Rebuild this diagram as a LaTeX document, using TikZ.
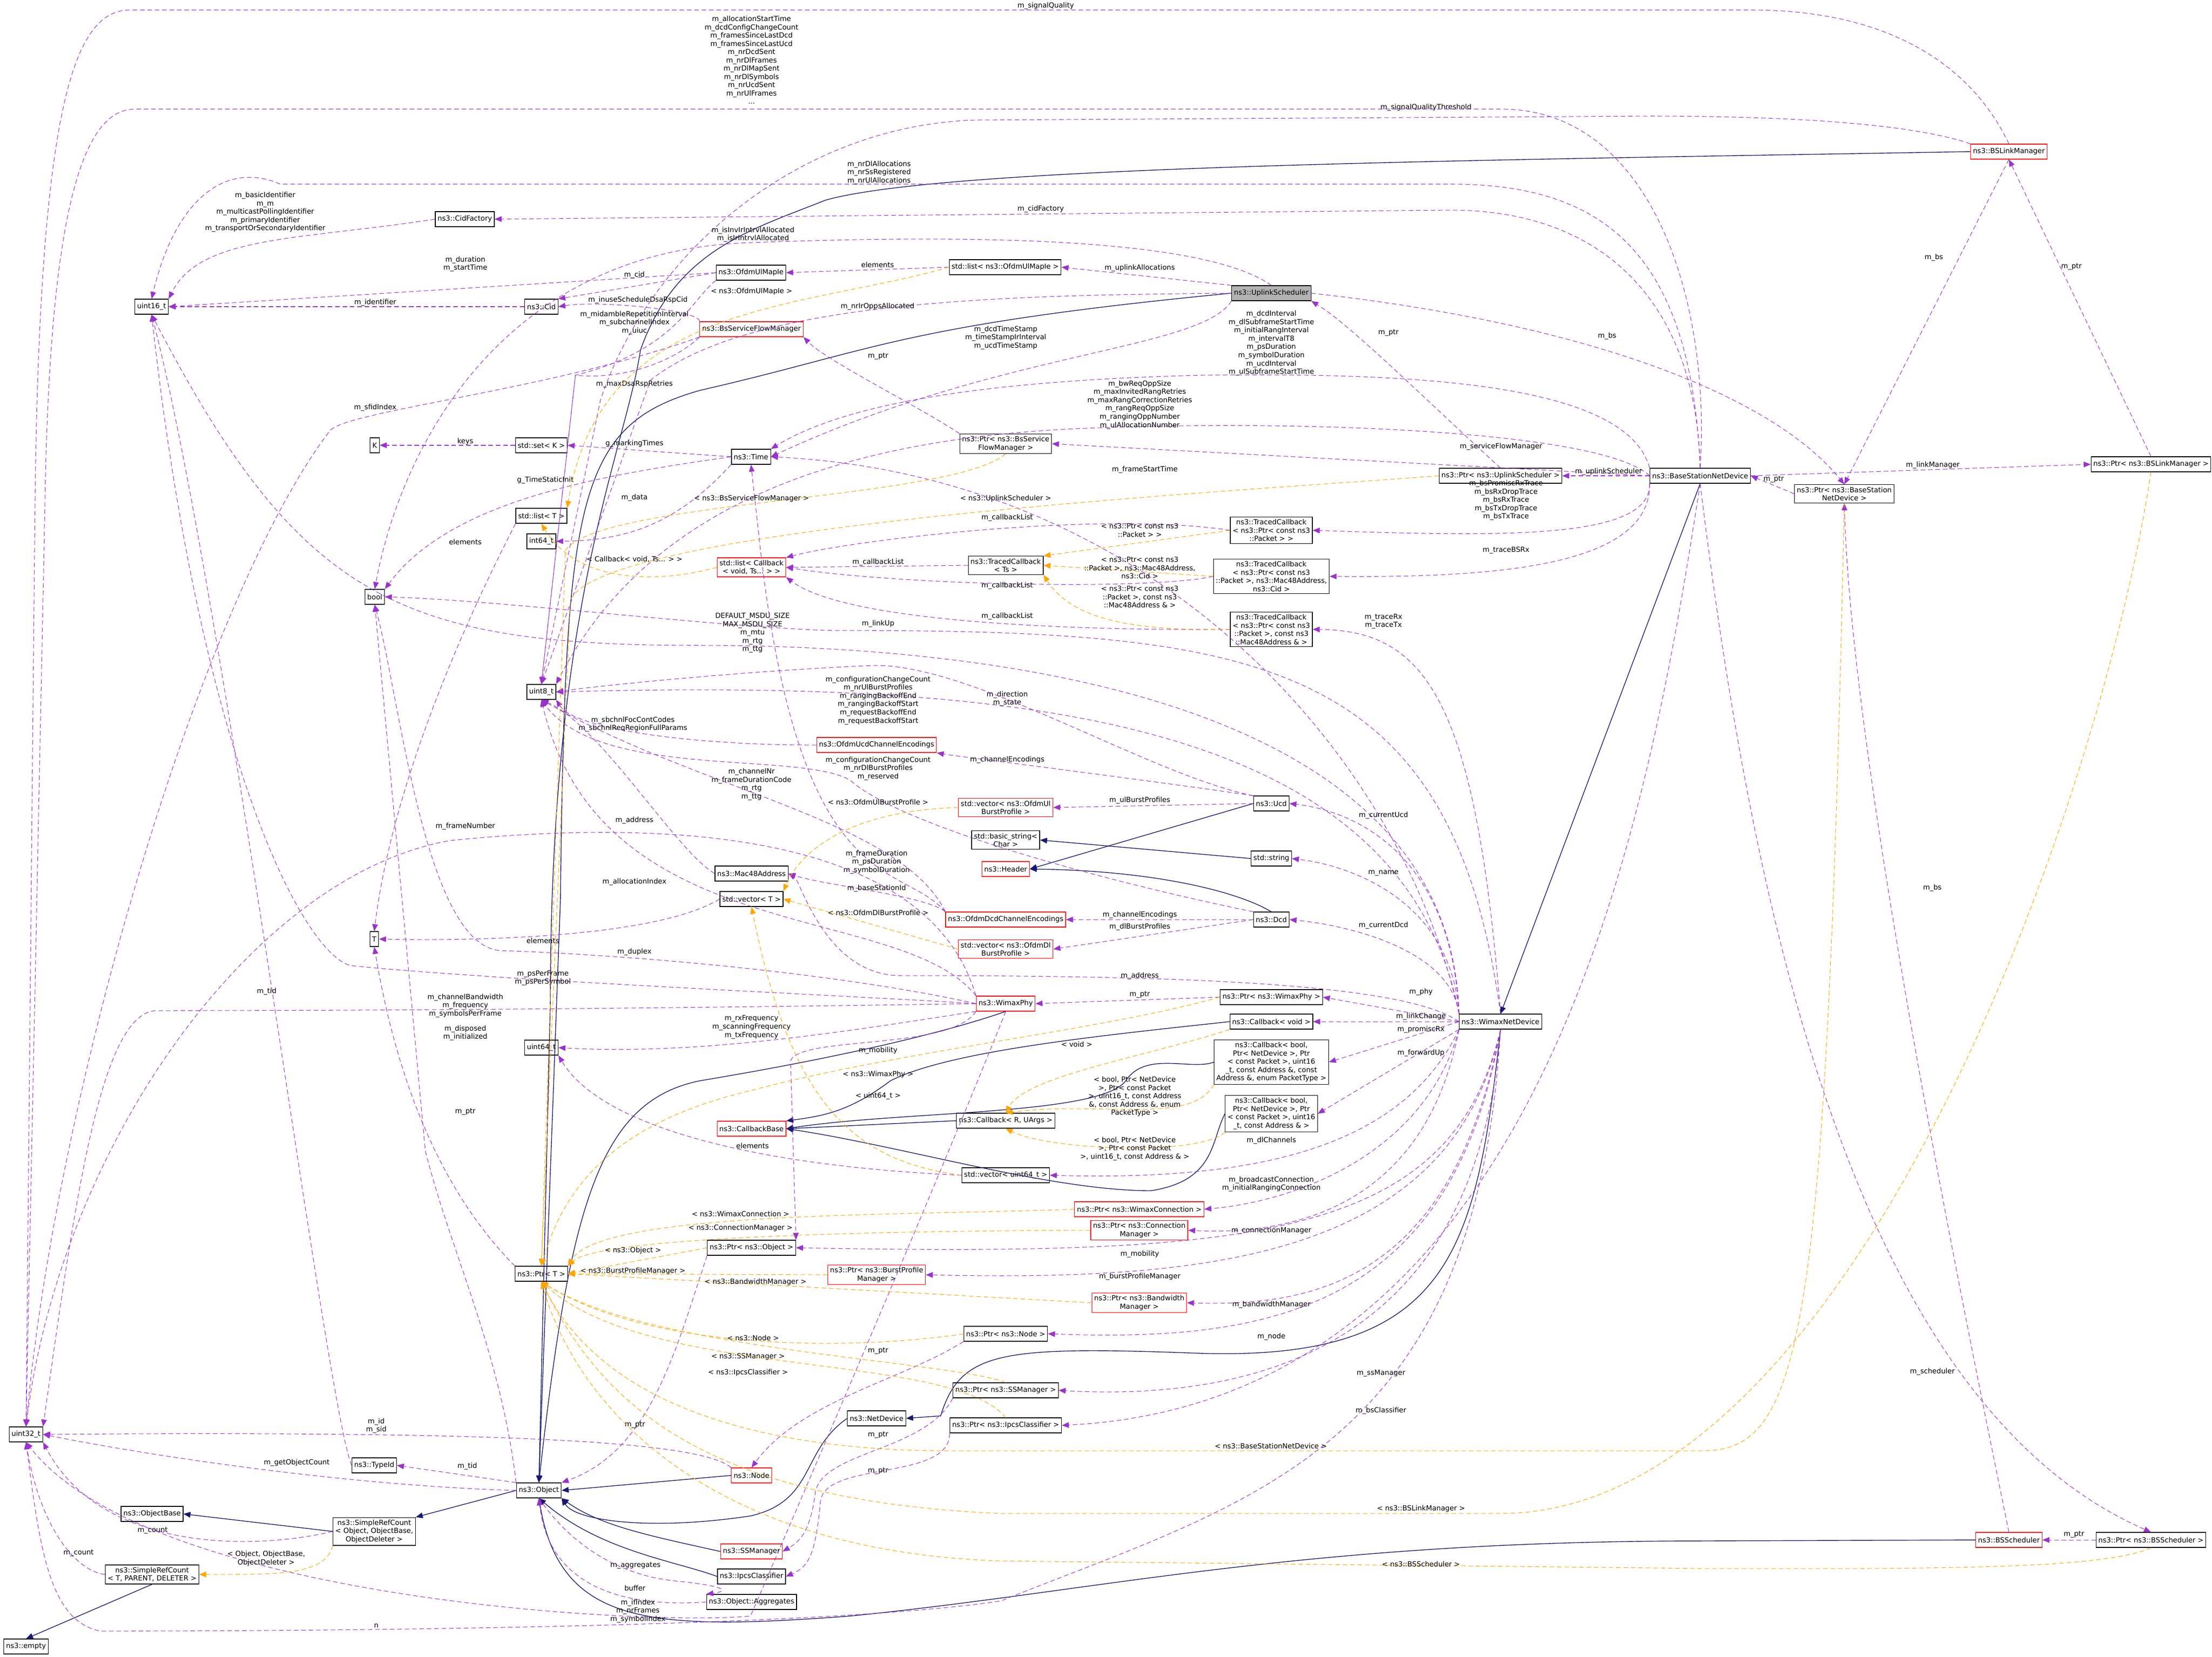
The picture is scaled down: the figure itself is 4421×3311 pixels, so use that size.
\documentclass[tikz,border=0pt]{standalone}
\usepackage{fontspec}
\setmainfont{DejaVu Sans}
\usetikzlibrary{arrows.meta}
\definecolor{mp}{RGB}{154,50,205}
\definecolor{mo}{RGB}{255,165,0}
\definecolor{mn}{RGB}{25,25,112}
\tikzset{
 box/.style={draw=black,line width=0.35pt,inner sep=1.3pt,minimum height=0.3cm,align=center,font=\fontsize{4}{4.7}\selectfont,fill=white},
 rbox/.style={box,draw=red},
 lbl/.style={inner sep=0pt,align=center,font=\fontsize{4}{4.7}\selectfont},
 mem/.style={draw=mp,line width=0.3pt,dash pattern=on 2.6pt off 1.6pt,-{Triangle[length=4pt,width=3.2pt]}},
 tpl/.style={draw=mo,line width=0.3pt,dash pattern=on 2.6pt off 1.6pt,-{Triangle[length=4pt,width=3.2pt]}},
 inh/.style={draw=mn,line width=0.4pt,-{Triangle[length=4pt,width=3.2pt]}},
}
\begin{document}
\begin{tikzpicture}[x=0.01cm,y=-0.01cm]
\useasboundingbox[fill=white] (0,0) rectangle (4421,3311);
% nodes
\node[box] (uint16) at (303,613) {uint16\_t};
\node[box] (cidf) at (929,438) {ns3::CidFactory};
\node[box] (ulie) at (1501,545) {ns3::OfdmUlMapIe};
\node[box] (cid) at (1082,613) {ns3::Cid};
\node[rbox] (bssfm) at (1502,658) {ns3::BsServiceFlowManager};
\node[box] (K) at (749,890) {K};
\node[box] (setK) at (1082,890) {std::set< K >};
\node[box] (time) at (1501,913) {ns3::Time};
\node[box] (listT) at (1082,1031) {std::list< T >};
\node[box] (i64) at (1082,1082) {int64\_t};
\node[rbox] (listcb) at (1502,1134) {std::list< Callback\\< void, Ts... > >};
\node[box] (bool) at (749,1193) {bool};
\node[box] (u8) at (1082,1383) {uint8\_t};
\node[box] (T) at (748,1877) {T};
\node[box] (u64) at (1082,2094) {uint64\_t};
\node[box] (listul) at (2009,534) {std::list< ns3::OfdmUlMapIe >};
\node[box,fill=black!30] (ups) at (2541,586) {ns3::UplinkScheduler};
\node[box] (pbssfm) at (2010,887) {ns3::Ptr< ns3::BsService\\FlowManager >};
\node[box] (tcp) at (2541,1060) {ns3::TracedCallback\\< ns3::Ptr< const ns3\\::Packet > >};
\node[box] (tcts) at (2010,1130) {ns3::TracedCallback\\< Ts >};
\node[box] (tcmc) at (2541,1152) {ns3::TracedCallback\\< ns3::Ptr< const ns3\\::Packet >, ns3::Mac48Address,\\ ns3::Cid >};
\node[box] (tcma) at (2541,1258) {ns3::TracedCallback\\< ns3::Ptr< const ns3\\::Packet >, const ns3\\::Mac48Address \& >};
\node[rbox] (ucdce) at (1752,1489) {ns3::OfdmUcdChannelEncodings};
\node[rbox] (vulbp) at (2010,1614) {std::vector< ns3::OfdmUl\\BurstProfile >};
\node[box] (ucd) at (2541,1606) {ns3::Ucd};
\node[box] (bstr) at (2010,1679) {std::basic\_string<\\ Char >};
\node[box] (str) at (2541,1716) {std::string};
\node[rbox] (header) at (2010,1737) {ns3::Header};
\node[box] (mac) at (1502,1746) {ns3::Mac48Address};
\node[box] (vecT) at (1502,1797) {std::vector< T >};
\node[rbox] (dcdce) at (2010,1838) {ns3::OfdmDcdChannelEncodings};
\node[box] (dcd) at (2541,1838) {ns3::Dcd};
\node[rbox] (vdlbp) at (2010,1897) {std::vector< ns3::OfdmDl\\BurstProfile >};
\node[rbox] (phy) at (2010,2006) {ns3::WimaxPhy};
\node[box] (pphy) at (2541,1993) {ns3::Ptr< ns3::WimaxPhy >};
\node[box] (cbv) at (2541,2042) {ns3::Callback< void >};
\node[box] (cbpt) at (2541,2123) {ns3::Callback< bool,\\ Ptr< NetDevice >, Ptr\\< const Packet >, uint16\\\_t, const Address \&, const\\ Address \&, enum PacketType >};
\node[box] (cbad) at (2541,2226) {ns3::Callback< bool,\\ Ptr< NetDevice >, Ptr\\< const Packet >, uint16\\\_t, const Address \& >};
\node[rbox] (cbb) at (1502,2256) {ns3::CallbackBase};
\node[box] (cbr) at (2010,2240) {ns3::Callback< R, UArgs >};
\node[box] (vu64) at (2010,2349) {std::vector< uint64\_t >};
\node[rbox] (pwc) at (2277,2417) {ns3::Ptr< ns3::WimaxConnection >};
\node[rbox] (pcm) at (2277,2459) {ns3::Ptr< ns3::Connection\\Manager >};
\node[box] (pobj) at (1502,2494) {ns3::Ptr< ns3::Object >};
\node[rbox] (pbpm) at (1752,2548) {ns3::Ptr< ns3::BurstProfile\\Manager >};
\node[rbox] (pbwm) at (2277,2604) {ns3::Ptr< ns3::Bandwidth\\Manager >};
\node[box] (pnode) at (2010,2666) {ns3::Ptr< ns3::Node >};
\node[box] (pssm) at (2010,2779) {ns3::Ptr< ns3::SSManager >};
\node[box] (netdev) at (1752,2835) {ns3::NetDevice};
\node[box] (pipcs) at (2010,2849) {ns3::Ptr< ns3::IpcsClassifier >};
\node[box] (ptrT) at (1082,2546) {ns3::Ptr< T >};
\node[box] (u32) at (52,2867) {uint32\_t};
\node[box] (typeid) at (748,2929) {ns3::TypeId};
\node[box] (obj) at (1077,2979) {ns3::Object};
\node[rbox] (node) at (1502,2949) {ns3::Node};
\node[box] (objbase) at (304,3026) {ns3::ObjectBase};
\node[box] (src) at (748,3061) {ns3::SimpleRefCount\\< Object, ObjectBase,\\ ObjectDeleter >};
\node[rbox] (ssm) at (1502,3101) {ns3::SSManager};
\node[box] (srcT) at (304,3147) {ns3::SimpleRefCount\\< T, PARENT, DELETER >};
\node[box] (ipcs) at (1502,3151) {ns3::IpcsClassifier};
\node[box] (aggr) at (1502,3202) {ns3::Object::Aggregates};
\node[box] (empty) at (52,3291) {ns3::empty};
\node[box] (bsnd) at (3398,951) {ns3::BaseStationNetDevice};
\node[box] (pups) at (2999,951) {ns3::Ptr< ns3::UplinkScheduler >};
\node[box] (pbsnd) at (3686,987) {ns3::Ptr< ns3::BaseStation\\NetDevice >};
\node[box] (pbslm) at (4299,928) {ns3::Ptr< ns3::BSLinkManager >};
\node[rbox] (bslm) at (4015,303) {ns3::BSLinkManager};
\node[box] (wnd) at (2999,2042) {ns3::WimaxNetDevice};
\node[rbox] (bss) at (4015,3078) {ns3::BSScheduler};
\node[box] (pbss) at (4299,3078) {ns3::Ptr< ns3::BSScheduler >};

% inheritance
\draw[inh] (ups.west) .. controls (1800,650) and (1750,700) .. (1400,780) .. controls (1150,850) and (1130,1000) .. (1120,1800) -- (obj.north);
\draw[inh] (bslm.west) .. controls (3000,320) and (1900,330) .. (1650,400) .. controls (1500,460) and (1350,500) .. (1280,700) .. controls (1250,900) and (1100,1200) .. (1100,2000) -- (obj.north);
\draw[inh] (bsnd.south) -- (wnd.north);
\draw[inh] (wnd.south) .. controls (2950,2500) and (2900,2720) .. (2400,2705) .. controls (2000,2690) and (1920,2700) .. (1880,2830) -- (netdev.east);
\draw[inh] (netdev.west) .. controls (1600,2900) and (1630,3000) .. (1500,3030) .. controls (1300,3060) and (1150,3040) .. (obj.south east);
\draw[inh] (phy.south) .. controls (1900,2060) and (1700,2110) .. (1400,2160) .. controls (1200,2200) and (1140,2400) .. (obj.north);
\draw[inh] (ucd.west) -- (header.east);
\draw[inh] (dcd.north) .. controls (2470,1780) and (2300,1740) .. (header.east);
\draw[inh] (str.west) -- (bstr.east);
\draw[inh] (cbv.west) .. controls (2200,2070) and (1900,2100) .. (1780,2160) .. controls (1700,2220) and (1650,2230) .. (cbb.north east);
\draw[inh] (cbr.west) -- (cbb.east);
\draw[inh] (cbpt.west) .. controls (2380,2140) and (2290,2100) .. (2250,2160) .. controls (2200,2230) and (1800,2220) .. (cbb.east);
\draw[inh] (cbad.west) .. controls (2420,2280) and (2430,2360) .. (2300,2380) .. controls (2100,2380) and (1800,2290) .. (cbb.east);
\draw[inh] (node.west) -- (obj.east);
\draw[inh] (ssm.west) .. controls (1300,3070) and (1200,3050) .. (obj.south east);
\draw[inh] (ipcs.west) .. controls (1350,3120) and (1200,3100) .. (obj.south);
\draw[inh] (bss.west) -- (3400,3080) .. controls (2600,3080) and (2200,3180) .. (1700,3230) .. controls (1300,3260) and (1120,3250) .. (obj.south);
\draw[inh] (obj.west) -- (src.north east);
\draw[inh] (src.west) -- (objbase.east);
\draw[inh] (srcT.south) -- (empty.north);

% member edges
\draw[mem] (bslm.north) .. controls (3950,150) and (3800,20) .. (3500,20) -- (260,20) .. controls (150,20) and (80,200) .. (70,1000) -- (u32.north);
\node[lbl] (l1) at (2090,12) {m\_signalQuality};
\draw[mem] (bslm.north west) .. controls (3800,240) and (3500,232) .. (3300,232) -- (1950,240) .. controls (1600,250) and (1300,500) .. (1200,800) -- (u8.north);
\node[lbl] (l2) at (2850,215) {m\_signalQualityThreshold};
\draw[mem] (bsnd.north) .. controls (3420,600) and (3300,218) .. (3000,218) -- (270,218) .. controls (170,218) and (100,400) .. (90,1000) -- (u32.north);
\node[lbl] (l3) at (1502,120) {m\_allocationStartTime\\m\_dcdConfigChangeCount\\m\_framesSinceLastDcd\\m\_framesSinceLastUcd\\m\_nrDcdSent\\m\_nrDlFrames\\m\_nrDlMapSent\\m\_nrDlSymbols\\m\_nrUcdSent\\m\_nrUlFrames\\...};
\draw[mem] (bsnd.north) .. controls (3380,500) and (3200,368) .. (2900,368) -- (560,368) .. controls (450,320) and (350,400) .. (uint16.north);
\node[lbl] (l4) at (1757,345) {m\_nrDlAllocations\\m\_nrSsRegistered\\m\_nrUlAllocations};
\draw[mem] (bsnd.north) .. controls (3390,600) and (3200,420) .. (2900,420) -- (cidf.east);
\node[lbl] (l5) at (2080,418) {m\_cidFactory};
\draw[mem] (cidf.west) .. controls (600,480) and (400,470) .. (uint16.north east);
\node[lbl] (l6) at (530,424) {m\_basicIdentifier\\m\_m\\m\_multicastPollingIdentifier\\m\_primaryIdentifier\\m\_transportOrSecondaryIdentifier};
\draw[mem] (ulie.west) -- (uint16.east);
\node[lbl] (l7) at (930,528) {m\_duration\\m\_startTime};
\draw[mem] (cid.west) -- (uint16.east);
\node[lbl] (l8) at (750,605) {m\_identifier};
\draw[mem] (ulie.west) -- (cid.north east);
\node[lbl] (l9) at (1268,550) {m\_cid};
\draw[mem] (bssfm.north west) .. controls (1400,620) and (1200,600) .. (cid.east);
\node[lbl] (l10) at (1275,600) {m\_inuseScheduleDsaRspCid};
\draw[mem] (ulie.south west) .. controls (1380,600) and (1350,700) .. (1150,750) -- (u8.north);
\node[lbl] (l11) at (1268,645) {m\_midambleRepetitionInterval\\m\_subchannelIndex\\m\_uiuc};
\draw[mem] (ups.north) .. controls (2400,470) and (1900,470) .. (1500,485) .. controls (1000,500) and (800,900) .. (bool.north);
\node[lbl] (l12) at (1505,469) {m\_isInvIrIntrvlAllocated\\m\_isIrIntrvlAllocated};
\draw[mem] (listul.west) -- (ulie.east);
\node[lbl] (l13) at (1754,529) {elements};
\draw[mem] (ups.north west) -- (listul.east);
\node[lbl] (l14) at (2278,536) {m\_uplinkAllocations};
\draw[mem] (ups.west) .. controls (2000,590) and (1500,600) .. (1300,760) -- (u8.north);
\node[lbl] (l15) at (1754,613) {m\_nrIrOppsAllocated};
\draw[mem] (ups.south west) .. controls (2400,700) and (2000,700) .. (time.east);
\node[lbl] (l16) at (2010,675) {m\_dcdTimeStamp\\m\_timeStampIrInterval\\m\_ucdTimeStamp};
\draw[mem] (pups.north) .. controls (2850,800) and (2700,650) .. (ups.south east);
\node[lbl] (l17) at (2775,665) {m\_ptr};
\draw[mem] (bsnd.north west) .. controls (3250,760) and (2800,745) .. (2400,750) .. controls (2000,760) and (1700,800) .. (time.north east);
\node[lbl] (l18) at (2541,686) {m\_dcdInterval\\m\_dlSubframeStartTime\\m\_initialRangInterval\\m\_intervalT8\\m\_psDuration\\m\_symbolDuration\\m\_ucdInterval\\m\_ulSubframeStartTime};
\draw[mem] (bsnd.west) .. controls (3200,860) and (2600,840) .. (2200,855) .. controls (1700,870) and (1300,1000) .. (u8.north east);
\node[lbl] (l19) at (2278,809) {m\_bwReqOppSize\\m\_maxInvitedRangRetries\\m\_maxRangCorrectionRetries\\m\_rangReqOppSize\\m\_rangingOppNumber\\m\_ulAllocationNumber};
\draw[mem] (pbssfm.north west) .. controls (1850,820) and (1650,720) .. (bssfm.south east);
\node[lbl] (l20) at (1755,712) {m\_ptr};
\draw[mem] (bsnd.west) -- (pbssfm.east);
\node[lbl] (l21) at (3000,893) {m\_serviceFlowManager};
\draw[mem] (bssfm.south west) .. controls (1350,720) and (1250,760) .. (1150,750) -- (u8.north);
\node[lbl] (l22) at (1268,768) {m\_maxDsaRspRetries};
\draw[mem] (bssfm.south west) .. controls (1100,780) and (700,820) .. (660,860) .. controls (400,1200) and (110,2200) .. (u32.north);
\node[lbl] (l23) at (750,815) {m\_sfidIndex};
\draw[mem] (setK.west) -- (K.east);
\node[lbl] (l24) at (930,883) {keys};
\draw[mem] (time.west) -- (setK.east);
\node[lbl] (l25) at (1268,887) {g\_markingTimes};
\draw[mem] (time.west) .. controls (1200,950) and (900,1000) .. (bool.north east);
\node[lbl] (l26) at (1090,960) {g\_TimeStaticInit};
\draw[mem] (time.south west) .. controls (1350,1050) and (1250,1080) .. (i64.east);
\node[lbl] (l27) at (1268,995) {m\_data};
\draw[mem] (listT.south west) .. controls (900,1300) and (780,1600) .. (T.north);
\node[lbl] (l28) at (930,1083) {elements};
\draw[mem] (pbsnd.west) -- (bsnd.east);
\node[lbl] (l29) at (3545,958) {m\_ptr};
\draw[mem] (bsnd.east) -- (pbslm.west);
\node[lbl] (l30) at (3863,930) {m\_linkManager};
\draw[mem] (pbslm.north) -- (bslm.south);
\node[lbl] (l31) at (4140,533) {m\_ptr};
\draw[mem] (bslm.south) -- (pbsnd.north);
\node[lbl] (l32) at (3865,515) {m\_bs};
\draw[mem] (ups.east) .. controls (3200,650) and (3550,800) .. (pbsnd.north);
\node[lbl] (l33) at (3212,672) {m\_bs};
\draw[mem] (bsnd.west) -- (pups.east);
\node[lbl] (l34) at (3215,943) {m\_uplinkScheduler};
\draw[mem] (bsnd.south west) .. controls (3300,1080) and (3000,1072) .. (tcp.east);
\node[lbl] (l35) at (3010,1000) {m\_bsPromiscRxTrace\\m\_bsRxDropTrace\\m\_bsRxTrace\\m\_bsTxDropTrace\\m\_bsTxTrace};
\draw[mem] (bsnd.south west) .. controls (3300,1130) and (3000,1155) .. (tcmc.east);
\node[lbl] (l36) at (3010,1100) {m\_traceBSRx};
\draw[mem] (tcp.west) .. controls (2200,1020) and (1700,1080) .. (listcb.north east);
\node[lbl] (l37) at (2013,1035) {m\_callbackList};
\draw[mem] (tcts.west) -- (listcb.east);
\node[lbl] (l38) at (1755,1124) {m\_callbackList};
\draw[mem] (tcmc.west) .. controls (2300,1180) and (1800,1170) .. (listcb.east);
\node[lbl] (l39) at (2013,1171) {m\_callbackList};
\draw[mem] (tcma.west) .. controls (2200,1260) and (1700,1250) .. (listcb.south east);
\node[lbl] (l40) at (2013,1232) {m\_callbackList};
\draw[mem] (wnd.north) .. controls (2950,1400) and (2850,1260) .. (tcma.east);
\node[lbl] (l41) at (2765,1242) {m\_traceRx\\m\_traceTx};
\draw[mem] (wnd.north) .. controls (2900,1300) and (2500,1260) .. (1650,1260) .. controls (1400,1250) and (1000,1200) .. (bool.east);
\node[lbl] (l42) at (1755,1247) {m\_linkUp};
\draw[mem] (wnd.north west) .. controls (2900,1400) and (2000,1290) .. (1400,1290) .. controls (800,1290) and (600,1200) .. (uint16.south);
\node[lbl] (l43) at (1504,1265) {DEFAULT\_MSDU\_SIZE\\MAX\_MSDU\_SIZE\\m\_mtu\\m\_rtg\\m\_ttg};
\draw[mem] (wnd.north west) .. controls (2800,1420) and (2000,1360) .. (u8.east);
\node[lbl] (l44) at (2013,1397) {m\_direction\\m\_state};
\draw[mem] (ucd.north west) .. controls (2300,1550) and (1950,1330) .. (1750,1330) .. controls (1500,1340) and (1200,1370) .. (u8.east);
\node[lbl] (l45) at (1755,1400) {m\_configurationChangeCount\\m\_nrUlBurstProfiles\\m\_rangingBackoffEnd\\m\_rangingBackoffStart\\m\_requestBackoffEnd\\m\_requestBackoffStart};
\draw[mem] (ucdce.west) .. controls (1400,1490) and (1150,1460) .. (u8.south east);
\node[lbl] (l46) at (1265,1448) {m\_sbchnlFocContCodes\\m\_sbchnlReqRegionFullParams};
\draw[mem] (ucd.north west) .. controls (2300,1560) and (1900,1510) .. (ucdce.south east);
\node[lbl] (l47) at (2013,1519) {m\_channelEncodings};
\draw[mem] (dcd.north west) .. controls (2200,1760) and (1800,1650) .. (1700,1560) .. controls (1600,1500) and (1200,1560) .. (u8.south);
\node[lbl] (l48) at (1755,1536) {m\_configurationChangeCount\\m\_nrDlBurstProfiles\\m\_reserved};
\draw[mem] (dcdce.north west) .. controls (1800,1640) and (1400,1580) .. (u8.south);
\node[lbl] (l49) at (1502,1568) {m\_channelNr\\m\_frameDurationCode\\m\_rtg\\m\_ttg};
\draw[mem] (ucd.west) -- (vulbp.east);
\node[lbl] (l50) at (2278,1600) {m\_ulBurstProfiles};
\draw[mem] (dcd.west) -- (dcdce.east);
\node[lbl] (l51) at (2278,1829) {m\_channelEncodings};
\draw[mem] (dcd.west) -- (vdlbp.east);
\node[lbl] (l52) at (2278,1853) {m\_dlBurstProfiles};
\draw[mem] (dcdce.north west) .. controls (1800,1720) and (1600,1800) .. (1520,1100) -- (time.south);
\node[lbl] (l53) at (1752,1723) {m\_frameDuration\\m\_psDuration\\m\_symbolDuration};
\draw[mem] (dcdce.north west) .. controls (1850,1790) and (1650,1770) .. (mac.east);
\node[lbl] (l54) at (1752,1776) {m\_baseStationId};
\draw[mem] (phy.north west) .. controls (1850,1650) and (1300,1640) .. (900,1680) .. controls (500,1750) and (120,2300) .. (u32.north);
\node[lbl] (l55) at (930,1652) {m\_frameNumber};
\draw[mem] (wnd.west) .. controls (2800,1960) and (2300,1950) .. (1800,1950) .. controls (1650,1950) and (1600,1760) .. (mac.east);
\node[lbl] (l56) at (2278,1951) {m\_address};
\draw[mem] (mac.west) .. controls (1350,1700) and (1200,1450) .. (u8.south);
\node[lbl] (l57) at (1268,1640) {m\_address};
\draw[mem] (phy.north west) .. controls (1800,1800) and (1200,1900) .. (u8.south);
\node[lbl] (l58) at (1268,1763) {m\_allocationIndex};
\draw[mem] (vecT.west) .. controls (1300,1880) and (900,1880) .. (T.east);
\node[lbl] (l59) at (1085,1880) {elements};
\draw[mem] (phy.west) .. controls (1700,1950) and (1300,1910) .. (1000,1900) .. controls (850,1890) and (800,1400) .. (bool.south);
\node[lbl] (l60) at (1268,1903) {m\_duplex};
\draw[mem] (phy.west) .. controls (1700,1990) and (1000,1960) .. (700,1930) .. controls (600,1900) and (400,1500) .. (uint16.south);
\node[lbl] (l61) at (1085,1955) {m\_psPerFrame\\m\_psPerSymbol};
\draw[mem] (phy.west) .. controls (1700,2010) and (1000,2020) .. (310,2020) .. controls (200,2030) and (150,2400) .. (u32.north east);
\node[lbl] (l62) at (930,2010) {m\_channelBandwidth\\m\_frequency\\m\_symbolsPerFrame};
\draw[mem] (phy.south west) .. controls (1700,2060) and (1400,2110) .. (u64.east);
\node[lbl] (l63) at (1502,2053) {m\_rxFrequency\\m\_scanningFrequency\\m\_txFrequency};
\draw[mem] (vu64.west) .. controls (1500,2330) and (1200,2250) .. (u64.south east);
\node[lbl] (l64) at (1504,2290) {elements};
\draw[mem] (pphy.west) -- (phy.east);
\node[lbl] (l65) at (2278,1988) {m\_ptr};
\draw[mem] (wnd.west) -- (pphy.east);
\node[lbl] (l66) at (2840,1983) {m\_phy};
\draw[mem] (wnd.west) -- (cbv.east);
\node[lbl] (l67) at (2840,2032) {m\_linkChange};
\draw[mem] (wnd.west) -- (cbpt.east);
\node[lbl] (l68) at (2840,2058) {m\_promiscRx};
\draw[mem] (wnd.south west) -- (cbad.east);
\node[lbl] (l69) at (2840,2105) {m\_forwardUp};
\draw[mem] (wnd.south west) .. controls (2800,2300) and (2500,2360) .. (vu64.east);
\node[lbl] (l70) at (2541,2280) {m\_dlChannels};
\draw[mem] (wnd.south west) .. controls (2850,2300) and (2600,2400) .. (pwc.east);
\node[lbl] (l71) at (2541,2367) {m\_broadcastConnection\\m\_initialRangingConnection};
\draw[mem] (wnd.south west) .. controls (2850,2400) and (2600,2470) .. (pcm.east);
\node[lbl] (l72) at (2541,2460) {m\_connectionManager};
\draw[mem] (wnd.south) .. controls (2900,2480) and (2500,2510) .. (pobj.east);
\node[lbl] (l73) at (2278,2507) {m\_mobility};
\draw[mem] (phy.south west) .. controls (1900,2100) and (1600,2070) .. (1580,2120) -- (pobj.north east);
\node[lbl] (l74) at (1755,2100) {m\_mobility};
\draw[mem] (wnd.south) .. controls (2900,2520) and (2400,2560) .. (pbpm.east);
\node[lbl] (l75) at (2278,2552) {m\_burstProfileManager};
\draw[mem] (wnd.south) .. controls (2900,2580) and (2600,2610) .. (pbwm.east);
\node[lbl] (l76) at (2541,2608) {m\_bandwidthManager};
\draw[mem] (wnd.south) .. controls (2900,2640) and (2500,2680) .. (pnode.east);
\node[lbl] (l77) at (2541,2672) {m\_node};
\draw[mem] (wnd.south) .. controls (2950,2700) and (2500,2800) .. (pssm.east);
\node[lbl] (l78) at (2760,2745) {m\_ssManager};
\draw[mem] (bsnd.south) .. controls (3300,1600) and (3100,2800) .. (pipcs.east);
\node[lbl] (l79) at (2760,2820) {m\_bsClassifier};
\draw[mem] (pnode.south west) .. controls (1800,2760) and (1600,2800) .. (node.north);
\node[lbl] (l80) at (1755,2700) {m\_ptr};
\draw[mem] (pssm.south west) .. controls (1850,2900) and (1650,2900) .. (1630,2980) .. controls (1620,3060) and (1600,3080) .. (ssm.east);
\node[lbl] (l81) at (1755,2868) {m\_ptr};
\draw[mem] (pipcs.south west) .. controls (1900,2960) and (1650,2920) .. (1640,3000) .. controls (1630,3100) and (1620,3130) .. (ipcs.east);
\node[lbl] (l82) at (1755,2940) {m\_ptr};
\draw[mem] (pobj.south west) .. controls (1350,2700) and (1300,2900) .. (obj.north east);
\node[lbl] (l83) at (1269,2848) {m\_ptr};
\draw[mem] (obj.north west) -- (typeid.east);
\node[lbl] (l84) at (934,2931) {m\_tid};
\draw[mem] (obj.west) .. controls (700,2970) and (300,2910) .. (u32.east);
\node[lbl] (l85) at (593,2924) {m\_getObjectCount};
\draw[mem] (node.north west) .. controls (1400,2880) and (1000,2860) .. (u32.east);
\node[lbl] (l86) at (752,2850) {m\_id\\m\_sid};
\draw[mem] (src.west) .. controls (500,3100) and (200,3100) .. (u32.south east);
\node[lbl] (l87) at (305,3059) {m\_count};
\draw[mem] (srcT.west) .. controls (150,3140) and (80,3050) .. (u32.south);
\node[lbl] (l88) at (157,3104) {m\_count};
\draw[mem] (obj.south) .. controls (1150,3100) and (1250,3150) .. (1350,3160) .. controls (1450,3170) and (1460,3180) .. (aggr.north west);
\node[lbl] (l89) at (1270,3129) {m\_aggregates};
\draw[mem] (aggr.west) .. controls (1300,3210) and (1100,3200) .. (obj.south);
\node[lbl] (l90) at (1269,3174) {buffer};
\draw[mem] (wnd.south) .. controls (2950,2900) and (2500,3000) .. (2000,3200) .. controls (1600,3260) and (400,3260) .. (200,3260) .. controls (100,3240) and (80,3100) .. (u32.south);
\node[lbl] (l91) at (752,3250) {n};
\draw[mem] (phy.south) .. controls (1900,2300) and (1600,3000) .. (1500,3230) .. controls (1300,3250) and (300,3200) .. (u32.south);
\node[lbl] (l92) at (1275,3220) {m\_ifIndex\\m\_nrFrames\\m\_symbolIndex};
\draw[mem] (typeid.west) .. controls (650,2800) and (450,1200) .. (uint16.south);
\node[lbl] (l93) at (533,1982) {m\_tid};
\draw[mem] (obj.north west) .. controls (1000,2700) and (900,2500) .. (850,2300) -- (bool.south);
\node[lbl] (l94) at (930,2065) {m\_disposed\\m\_initialized};
\draw[mem] (ptrT.north west) .. controls (900,2400) and (800,2200) .. (T.south);
\node[lbl] (l95) at (930,2222) {m\_ptr};
\draw[mem] (bss.north) .. controls (3900,2500) and (3700,1500) .. (pbsnd.south);
\node[lbl] (l96) at (3862,1775) {m\_bs};
\draw[mem] (bsnd.south) .. controls (3500,1800) and (3700,2800) .. (pbss.north);
\node[lbl] (l97) at (3862,2742) {m\_scheduler};
\draw[mem] (pbss.west) -- (bss.east);
\node[lbl] (l98) at (4145,3067) {m\_ptr};
\draw[mem] (wnd.north west) .. controls (2800,1500) and (2300,950) .. (time.east);
\node[lbl] (l99) at (2288,939) {m\_frameStartTime};
\draw[mem] (wnd.north west) .. controls (2900,1700) and (2700,1620) .. (ucd.east);
\node[lbl] (l100) at (2765,1630) {m\_currentUcd};
\draw[mem] (wnd.north west) .. controls (2900,1800) and (2700,1730) .. (str.east);
\node[lbl] (l101) at (2765,1745) {m\_name};
\draw[mem] (wnd.north west) .. controls (2900,1900) and (2700,1850) .. (dcd.east);
\node[lbl] (l102) at (2765,1850) {m\_currentDcd};

% template instances
\draw[tpl] (listul.west) .. controls (1600,620) and (1200,600) .. (listT.north east);
\node[lbl] (t1) at (1502,583) {< ns3::OfdmUlMapIe >};
\draw[tpl] (listcb.west) .. controls (1300,1170) and (1150,1160) .. (listT.south);
\node[lbl] (t2) at (1268,1118) {< Callback< void, Ts... > >};
\draw[tpl] (pbssfm.south) .. controls (1900,1000) and (1200,1000) .. (1130,1100) -- (ptrT.north);
\node[lbl] (t3) at (1502,997) {< ns3::BsServiceFlowManager >};
\draw[tpl] (pups.west) .. controls (2500,980) and (1200,1050) .. (1140,1200) -- (ptrT.north);
\node[lbl] (t4) at (2010,997) {< ns3::UplinkScheduler >};
\draw[tpl] (tcp.west) -- (tcts.north east);
\node[lbl] (t5) at (2278,1060) {< ns3::Ptr< const ns3\\::Packet > >};
\draw[tpl] (tcmc.west) -- (tcts.east);
\node[lbl] (t6) at (2278,1135) {< ns3::Ptr< const ns3\\::Packet >, ns3::Mac48Address,\\ns3::Cid >};
\draw[tpl] (tcma.west) .. controls (2300,1260) and (2150,1250) .. (tcts.south east);
\node[lbl] (t7) at (2278,1193) {< ns3::Ptr< const ns3\\::Packet >, const ns3\\::Mac48Address \& >};
\draw[tpl] (vulbp.west) .. controls (1700,1620) and (1600,1700) .. (vecT.north east);
\node[lbl] (t8) at (1755,1603) {< ns3::OfdmUlBurstProfile >};
\draw[tpl] (vdlbp.west) -- (vecT.east);
\node[lbl] (t9) at (1755,1824) {< ns3::OfdmDlBurstProfile >};
\draw[tpl] (pphy.west) .. controls (2200,2060) and (1800,2100) .. (1500,2180) .. controls (1200,2250) and (1120,2400) .. (ptrT.north);
\node[lbl] (t10) at (1755,2148) {< ns3::WimaxPhy >};
\draw[tpl] (vu64.west) .. controls (1700,2320) and (1580,2200) .. (vecT.south);
\node[lbl] (t11) at (1755,2191) {< uint64\_t >};
\draw[tpl] (cbpt.south west) .. controls (2380,2250) and (2200,2200) .. (cbr.north);
\node[lbl] (t12) at (2268,2192) {< bool, Ptr< NetDevice\\>, Ptr< const Packet\\>, uint16\_t, const Address\\\&, const Address \&, enum\\PacketType >};
\draw[tpl] (cbad.south west) .. controls (2400,2310) and (2100,2300) .. (cbr.south);
\node[lbl] (t13) at (2268,2296) {< bool, Ptr< NetDevice\\>, Ptr< const Packet\\>, uint16\_t, const Address \& >};
\draw[tpl] (cbv.south west) .. controls (2300,2110) and (2050,2150) .. (cbr.north);
\node[lbl] (t14) at (2152,2087) {< void >};
\draw[tpl] (pwc.west) .. controls (1800,2430) and (1200,2420) .. (ptrT.north east);
\node[lbl] (t15) at (1480,2426) {< ns3::WimaxConnection >};
\draw[tpl] (pcm.west) .. controls (1800,2460) and (1200,2470) .. (ptrT.north east);
\node[lbl] (t16) at (1480,2455) {< ns3::ConnectionManager >};
\draw[tpl] (pobj.west) -- (ptrT.east);
\node[lbl] (t17) at (1265,2500) {< ns3::Object >};
\draw[tpl] (pbpm.west) -- (ptrT.east);
\node[lbl] (t18) at (1265,2541) {< ns3::BurstProfileManager >};
\draw[tpl] (pbwm.west) -- (ptrT.east);
\node[lbl] (t19) at (1510,2563) {< ns3::BandwidthManager >};
\draw[tpl] (pnode.west) .. controls (1700,2700) and (1300,2700) .. (ptrT.south);
\node[lbl] (t20) at (1505,2674) {< ns3::Node >};
\draw[tpl] (pssm.north) .. controls (1900,2720) and (1300,2700) .. (ptrT.south);
\node[lbl] (t21) at (1495,2712) {< ns3::SSManager >};
\draw[tpl] (pipcs.north) .. controls (1900,2700) and (1300,2760) .. (ptrT.south);
\node[lbl] (t22) at (1495,2744) {< ns3::IpcsClassifier >};
\draw[tpl] (pbsnd.south) .. controls (3650,2700) and (3600,2900) .. (3400,2900) -- (1900,2900) .. controls (1500,2900) and (1200,2800) .. (ptrT.south);
\node[lbl] (t23) at (2540,2890) {< ns3::BaseStationNetDevice >};
\draw[tpl] (pbslm.south) .. controls (4200,1600) and (3700,3025) .. (3000,3025) -- (2000,3025) .. controls (1400,3000) and (1200,2800) .. (ptrT.south);
\node[lbl] (t24) at (2840,3016) {< ns3::BSLinkManager >};
\draw[tpl] (pbss.south) .. controls (4200,3140) and (3800,3135) .. (3400,3135) -- (2000,3120) .. controls (1400,3100) and (1150,2800) .. (ptrT.south);
\node[lbl] (t25) at (2840,3126) {< ns3::BSScheduler >};
\draw[tpl] (src.south west) .. controls (650,3150) and (550,3147) .. (srcT.east);
\node[lbl] (t26) at (532,3115) {< Object, ObjectBase,\\ObjectDeleter >};
\end{tikzpicture}
\end{document}
